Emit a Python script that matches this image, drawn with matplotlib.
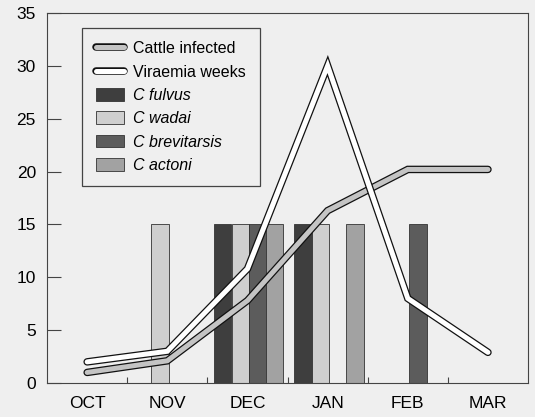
import matplotlib.pyplot as plt
import matplotlib.patheffects as pe
from matplotlib.patches import Patch
import numpy as np

plt.rcParams['font.family'] = ['Liberation Sans', 'DejaVu Sans']

months = ["OCT", "NOV", "DEC", "JAN", "FEB", "MAR"]
cattle_infected = [1.0, 2.1, 7.8, 16.3, 20.2, 20.2]
viraemia_weeks = [2.0, 3.0, 10.8, 30.0, 8.0, 2.9]

# bars mark presence of each species (drawn at 15)
species = ["C fulvus", "C wadai", "C brevitarsis", "C actoni"]
fulvus = [0, 0, 15, 15, 0, 0]
wadai = [0, 15, 15, 15, 0, 0]
brevitarsis = [0, 0, 15, 0, 15, 0]
actoni = [0, 0, 15, 15, 0, 0]

bar_colors = ["#3e3e3e", "#cfcfcf", "#5c5c5c", "#a2a2a2"]
bar_offsets = [-0.31, -0.09, 0.13, 0.34]
bar_width = 0.218
bg = "#efefef"

fig = plt.figure(figsize=(5.35, 4.17), dpi=100, facecolor=bg)
ax = fig.add_axes([0.088, 0.0815, 0.899, 0.8875], facecolor=bg)

x = np.arange(len(months))
for vals, col, off in zip([fulvus, wadai, brevitarsis, actoni], bar_colors, bar_offsets):
    vals = np.array(vals)
    keep = vals > 0
    ax.bar(x[keep] + off, vals[keep], width=bar_width, color=col,
           edgecolor="#333333", linewidth=0.6, zorder=2)

l1, = ax.plot(x, cattle_infected, color="#c4c4c4", lw=3.6, solid_capstyle="round",
              solid_joinstyle="miter", zorder=3, label="Cattle infected",
              path_effects=[pe.Stroke(linewidth=5.4, foreground="#111111"), pe.Normal()])
l2, = ax.plot(x, viraemia_weeks, color="white", lw=3.6, solid_capstyle="round",
              solid_joinstyle="miter", zorder=4, label="Viraemia weeks",
              path_effects=[pe.Stroke(linewidth=5.4, foreground="#111111"), pe.Normal()])

handles = [l1, l2] + [Patch(facecolor=c, edgecolor="#333333", linewidth=0.6) for c in bar_colors]
labels = ["Cattle infected", "Viraemia weeks"] + species
leg = ax.legend(handles, labels, loc="upper left", bbox_to_anchor=(0.073, 0.96),
                borderaxespad=0, fontsize=11.5, handlelength=1.75, handleheight=0.85,
                labelspacing=0.52, handletextpad=0.6, borderpad=0.85,
                fancybox=False, framealpha=1, facecolor=bg, edgecolor="#444444")
leg.get_frame().set_linewidth(0.9)
for t in leg.get_texts()[2:]:
    t.set_style("italic")

ax.set_xlim(-0.5, 5.5)
ax.set_ylim(0, 35)
ax.set_yticks(range(0, 36, 5))
ax.set_xticks(x)
ax.set_xticklabels(months)
ax.set_xticks(np.arange(0.5, 5, 1), minor=True)
ax.tick_params(axis="x", which="major", length=0, pad=9, labelsize=12.5)
ax.tick_params(axis="x", which="minor", direction="in", length=4, width=0.8, color="#444444")
ax.tick_params(axis="y", direction="in", length=10, width=0.8, pad=8, labelsize=12.5, color="#444444")
for s in ax.spines.values():
    s.set_linewidth(0.8)
    s.set_color("#444444")

fig.savefig("out.png", dpi=100, facecolor=bg)
